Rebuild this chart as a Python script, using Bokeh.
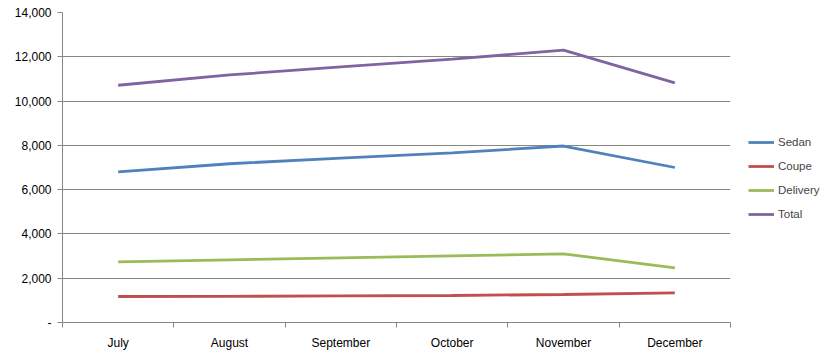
from bokeh.plotting import figure
from bokeh.models import FixedTicker, NumeralTickFormatter, Legend, LegendItem, Range1d
from bokeh.embed import file_html
from bokeh.resources import INLINE

months = ["July", "August", "September", "October", "November", "December"]
sedan = [6800, 7170, 7420, 7660, 7970, 7000]
coupe = [1175, 1180, 1200, 1220, 1265, 1340]
delivery = [2740, 2830, 2920, 3010, 3100, 2470]
total = [10715, 11180, 11540, 11890, 12300, 10820]
y_ticks = [0, 2000, 4000, 6000, 8000, 10000, 12000, 14000]

series = [("Sedan", sedan, "#4F81BD"), ("Coupe", coupe, "#C0504D"),
          ("Delivery", delivery, "#9BBB59"), ("Total", total, "#8064A2")]

FONT = "Liberation Sans"
xs = [i + 0.5 for i in range(len(months))]

p = figure(frame_width=668, frame_height=310, output_backend="svg", toolbar_location=None,
           x_range=Range1d(0, len(months)), y_range=Range1d(0, 14000),
           min_border_left=62, min_border_right=99, min_border_top=12, min_border_bottom=32)
p.outline_line_color = None
p.background_fill_color = "white"
p.border_fill_color = "white"

items = []
for name, vals, col in series:
    r = p.line(xs, vals, line_color=col, line_width=2.8)
    items.append(LegendItem(label=name, renderers=[r]))

grey = "#868686"
# x axis
p.xaxis.ticker = FixedTicker(ticks=xs, minor_ticks=list(range(len(months) + 1)))
p.xaxis.major_label_overrides = {x: m for x, m in zip(xs, months)}
p.xaxis.major_tick_out = 0
p.xaxis.major_tick_in = 0
p.xaxis.minor_tick_out = 5
p.xaxis.minor_tick_in = 0
p.xaxis.minor_tick_line_color = grey
p.xaxis.axis_line_color = grey
p.xaxis.major_label_standoff = 8
p.xaxis.major_label_text_font = FONT
p.xaxis.major_label_text_font_size = "12px"
p.xaxis.major_label_text_color = "black"

# y axis
p.yaxis.ticker = FixedTicker(ticks=y_ticks)
p.yaxis.formatter = NumeralTickFormatter(format="0,0")
p.yaxis.major_label_overrides = {0: "-"}
p.yaxis.major_tick_out = 5
p.yaxis.major_tick_in = 0
p.yaxis.minor_tick_line_color = None
p.yaxis.major_tick_line_color = grey
p.yaxis.axis_line_color = grey
p.yaxis.major_label_standoff = 6
p.yaxis.major_label_text_font = FONT
p.yaxis.major_label_text_font_size = "12px"
p.yaxis.major_label_text_color = "black"

p.xgrid.grid_line_color = None
p.ygrid.grid_line_color = grey
p.ygrid.grid_line_width = 1

legend = Legend(items=items, location=(18, 98), orientation="vertical",
                glyph_width=26, glyph_height=20, label_height=20, spacing=4,
                label_standoff=4, padding=0, margin=0,
                border_line_color=None, background_fill_alpha=0,
                label_text_font=FONT, label_text_font_size="11.5px")
p.add_layout(legend, "right")

open("out.html", "w").write(file_html(p, INLINE))
